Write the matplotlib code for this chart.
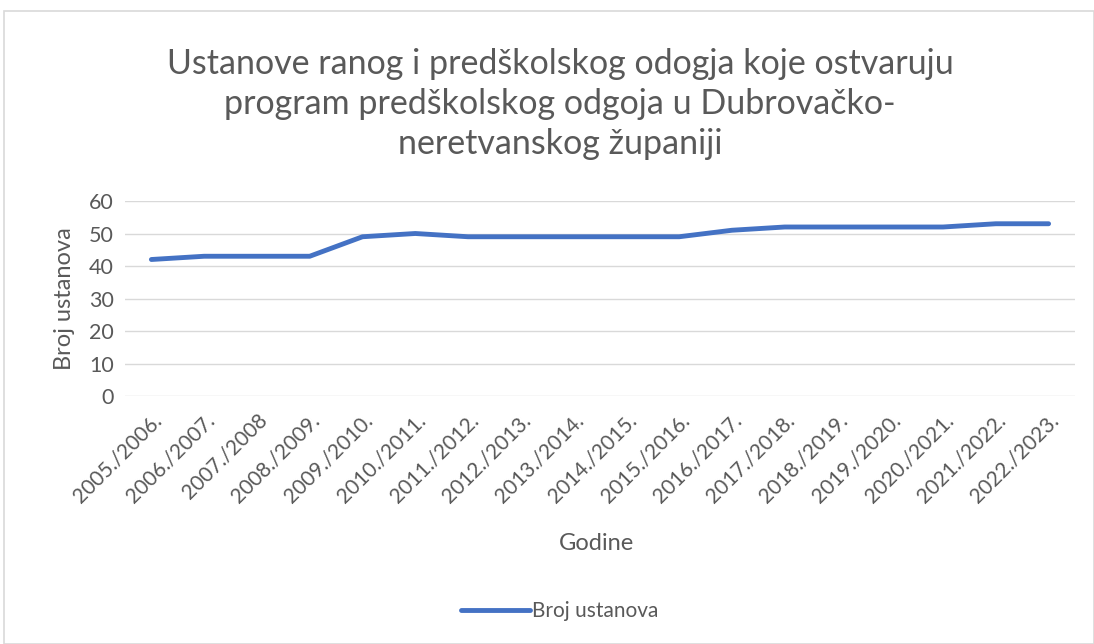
import matplotlib
matplotlib.use("Agg")
import matplotlib.pyplot as plt
from matplotlib.patches import Rectangle

years = ["2005./2006.", "2006./2007.", "2007./2008", "2008./2009.", "2009./2010.",
         "2010./2011.", "2011./2012.", "2012./2013.", "2013./2014.", "2014./2015.",
         "2015./2016.", "2016./2017.", "2017./2018.", "2018./2019.", "2019./2020.",
         "2020./2021.", "2021./2022.", "2022./2023."]
values = [42, 43, 43, 43, 49, 50, 49, 49, 49, 49, 49, 51, 52, 52, 52, 52, 53, 53]
yticks = [0, 10, 20, 30, 40, 50, 60]

title = "Ustanove ranog i predškolskog odogja koje ostvaruju\nprogram predškolskog odgoja u Dubrovačko-\nneretvanskog županiji"

plt.rcParams['font.family'] = ['Lato', 'DejaVu Sans']
gray = "#595959"

W, H = 1094, 644
fig = plt.figure(figsize=(W/100, H/100), dpi=100)
fig.patches.append(Rectangle((4/W, 0), 1 - 4/W, 1 - 11/H, transform=fig.transFigure,
                             fill=False, edgecolor="#D9D9D9", linewidth=1.2))

ax = fig.add_axes([125/W, 1 - 396/H, (1075-125)/W, (396-201)/H])
x = list(range(len(years)))
ax.plot(x, values, color="#4472C4", linewidth=3.5, solid_capstyle="round",
        solid_joinstyle="round", label="Broj ustanova")
ax.set_xlim(-0.5, len(years) - 0.5)
ax.set_ylim(0, 60)
ax.set_yticks(yticks)
ax.set_yticklabels([str(v) for v in yticks], fontsize=15.5, color=gray)
ax.set_xticks(x)
ax.set_xticklabels(years, rotation=45, ha="right", rotation_mode="anchor",
                   fontsize=15, color=gray)
ax.grid(axis="y", color="#D9D9D9", linewidth=1)
ax.set_axisbelow(True)
for s in ax.spines.values():
    s.set_visible(False)
ax.tick_params(length=0, pad=8)
ax.tick_params(axis="x", pad=10)

ax.set_ylabel("Broj ustanova", fontsize=17, color=gray, labelpad=10)
fig.text(597/W, 1 - 543/H, "Godine", fontsize=17, color=gray, ha="center", va="center")
fig.text(560/W, 1 - 104/H, title, fontsize=24.5, color=gray, ha="center", va="center",
         linespacing=1.3)

leg = fig.legend(loc="center", bbox_to_anchor=(560/W, 1 - 611/H), frameon=False,
                 fontsize=15, handlelength=3.3, handletextpad=0.1)
for t in leg.get_texts():
    t.set_color(gray)

fig.savefig("out.png", dpi=100, facecolor="white")
